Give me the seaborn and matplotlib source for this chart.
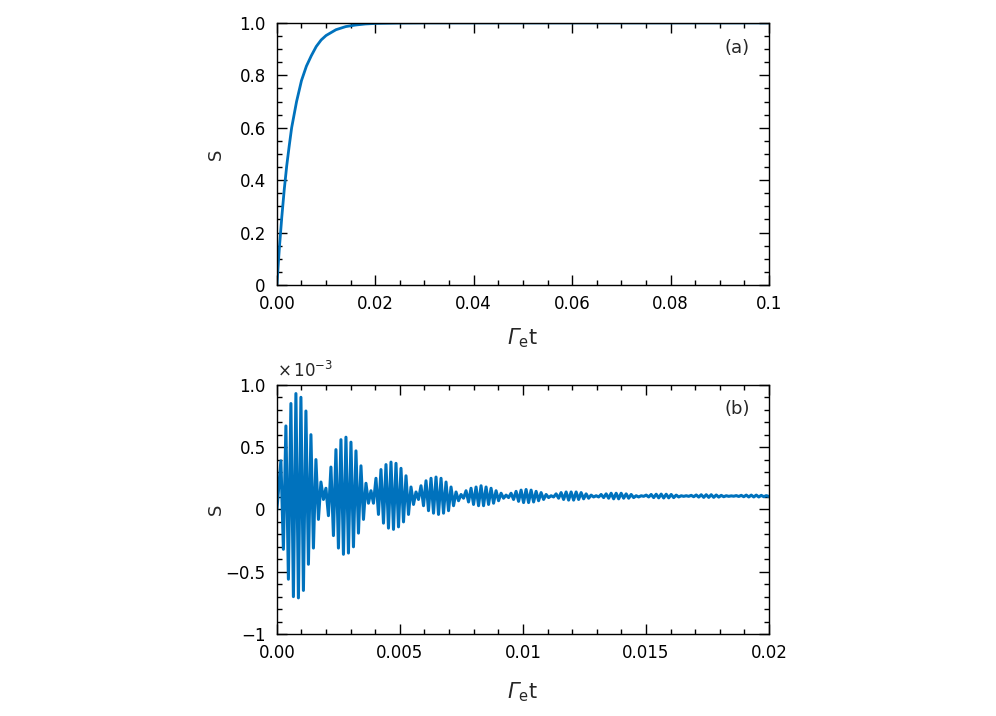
import numpy as np
import pandas as pd
import matplotlib
matplotlib.use("Agg")
import matplotlib.pyplot as plt
import seaborn as sns
from matplotlib.ticker import MultipleLocator

# ---------------- data ----------------
# panel (a): S vs Gamma_e t
t_a = [0, 0.0005, 0.001, 0.0015, 0.002, 0.0025, 0.003, 0.004, 0.005, 0.006,
       0.007, 0.008, 0.009, 0.010, 0.012, 0.014, 0.016, 0.018, 0.020, 0.025,
       0.030, 0.040, 0.050, 0.060, 0.070, 0.080, 0.090, 0.100]
S_a = [0, 0.14, 0.26, 0.365, 0.455, 0.53, 0.60, 0.70, 0.78, 0.835,
       0.875, 0.91, 0.935, 0.952, 0.974, 0.986, 0.992, 0.996, 0.998, 0.9995,
       1.0, 1.0, 1.0, 1.0, 1.0, 1.0, 1.0, 1.0]

# panel (b): S (x 1e-3), extrema of each carrier cycle
b_start = 0.0                 # value at t = 0
b_first_peak = 0.000163       # time of first maximum
b_period = 0.0002034          # carrier period
b_upper = [
    0.39, 0.67, 0.85, 0.93, 0.90, 0.79, 0.60, 0.40, 0.22,
    0.17, 0.34, 0.48, 0.56, 0.58, 0.54, 0.47, 0.35, 0.21,
    0.15, 0.25, 0.32, 0.36, 0.38, 0.37, 0.33, 0.27, 0.18,
    0.14, 0.19, 0.23, 0.25, 0.26, 0.25, 0.22, 0.18, 0.14,
    0.12, 0.15, 0.17, 0.18, 0.19, 0.18, 0.17, 0.15, 0.13,
    0.115, 0.13, 0.145, 0.155, 0.16, 0.155, 0.145, 0.135, 0.12,
    0.11, 0.125, 0.135, 0.14, 0.14, 0.14, 0.135, 0.125, 0.115,
    0.11, 0.12, 0.125, 0.13, 0.13, 0.13, 0.125, 0.12, 0.11,
    0.11, 0.115, 0.12, 0.122, 0.123, 0.122, 0.12, 0.115, 0.11,
    0.11, 0.113, 0.116, 0.118, 0.118, 0.118, 0.116, 0.113, 0.11,
    0.109, 0.111, 0.113, 0.115, 0.115, 0.115, 0.113, 0.111,
]
b_lower = [
    -0.32, -0.56, -0.70, -0.71, -0.65, -0.44, -0.31, -0.08, 0.08,
    -0.05, -0.21, -0.31, -0.36, -0.35, -0.30, -0.19, -0.08, 0.05,
    0.05, -0.04, -0.11, -0.15, -0.16, -0.14, -0.10, -0.04, 0.04,
    0.08, 0.03, -0.01, -0.03, -0.04, -0.03, -0.01, 0.03, 0.07,
    0.09, 0.06, 0.04, 0.03, 0.03, 0.04, 0.05, 0.07, 0.09,
    0.095, 0.08, 0.065, 0.055, 0.055, 0.06, 0.07, 0.08, 0.095,
    0.10, 0.09, 0.08, 0.075, 0.075, 0.08, 0.085, 0.09, 0.10,
    0.10, 0.095, 0.09, 0.085, 0.085, 0.09, 0.09, 0.095, 0.10,
    0.105, 0.10, 0.095, 0.093, 0.092, 0.093, 0.095, 0.10, 0.105,
    0.105, 0.102, 0.099, 0.097, 0.097, 0.097, 0.099, 0.102, 0.105,
    0.106, 0.104, 0.102, 0.100, 0.100, 0.100, 0.102, 0.104,
]

xt_a = [0, 0.02, 0.04, 0.06, 0.08, 0.1]
xl_a = ["0.00", "0.02", "0.04", "0.06", "0.08", "0.1"]
yt_a = [0, 0.2, 0.4, 0.6, 0.8, 1.0]
yl_a = ["0", "0.2", "0.4", "0.6", "0.8", "1.0"]
xt_b = [0, 0.005, 0.01, 0.015, 0.02]
xl_b = ["0.00", "0.005", "0.01", "0.015", "0.02"]
yt_b = [-1, -0.5, 0, 0.5, 1.0]
yl_b = ["\u22121", "\u22120.5", "0", "0.5", "1.0"]

# ---------------- build tables ----------------
df_a = pd.DataFrame({"t": t_a, "S": S_a})
n = len(b_upper)
t_up = b_first_peak + b_period * np.arange(n)
t_lo = t_up + b_period / 2
tb = np.empty(2 * n + 1)
sb = np.empty(2 * n + 1)
tb[0], sb[0] = 0.0, b_start
tb[1::2], tb[2::2] = t_up, t_lo
sb[1::2], sb[2::2] = b_upper, b_lower
df_b = pd.DataFrame({"t": tb, "S": sb})

# ---------------- style ----------------
sns.set_theme(style="ticks")
plt.rcParams.update({
    "font.family": ["DejaVu Sans"],
    "mathtext.fontset": "custom",
    "mathtext.rm": "DejaVu Sans",
    "mathtext.it": "DejaVu Sans:italic",
    "mathtext.sf": "DejaVu Sans:italic",
    "mathtext.bf": "DejaVu Sans:bold",
    "axes.linewidth": 1.0,
    "axes.edgecolor": "black",
    "xtick.direction": "in", "ytick.direction": "in",
    "xtick.top": True, "ytick.right": True,
    "xtick.major.size": 7, "ytick.major.size": 7,
    "xtick.minor.size": 3.5, "ytick.minor.size": 3.5,
    "xtick.major.width": 1.0, "ytick.major.width": 1.0,
    "xtick.minor.width": 1.0, "ytick.minor.width": 1.0,
    "xtick.color": "black", "ytick.color": "black",
    "xtick.labelsize": 12, "ytick.labelsize": 12,
    "xtick.major.pad": 7.5, "ytick.major.pad": 8,
})

color = "#0072BD"
fig = plt.figure(figsize=(9.96, 7.16), dpi=100)
ax1 = fig.add_axes([0.278, 0.602, 0.494, 0.366])
ax2 = fig.add_axes([0.278, 0.1145, 0.494, 0.348])

sns.lineplot(data=df_a, x="t", y="S", ax=ax1, color=color, lw=2.0,
             estimator=None, sort=False)
sns.lineplot(data=df_b, x="t", y="S", ax=ax2, color=color, lw=2.2,
             estimator=None, sort=False)

xlabel = r"$\mathsf{\Gamma}_{\mathrm{e}}\mathrm{t}$"
for ax, xt, xl, yt, yl, xmax, ylim, xmin_loc, ymin_loc, tag in [
    (ax1, xt_a, xl_a, yt_a, yl_a, 0.1, (0, 1), 0.005, 0.05, "(a)"),
    (ax2, xt_b, xl_b, yt_b, yl_b, 0.02, (-1, 1), 0.001, 0.1, "(b)"),
]:
    ax.set_xlim(0, xmax)
    ax.set_ylim(*ylim)
    ax.set_xticks(xt, xl)
    ax.set_yticks(yt, yl)
    ax.xaxis.set_minor_locator(MultipleLocator(xmin_loc))
    ax.yaxis.set_minor_locator(MultipleLocator(ymin_loc))
    ax.tick_params(which="both", top=True, right=True, direction="in")
    ax.set_xlabel(xlabel, fontsize=15)
    ax.set_ylabel("S", fontsize=13)
    ax.yaxis.set_label_coords(-0.105, 0.5)
    ax.text(0.935, 0.905, tag, transform=ax.transAxes, fontsize=13,
            ha="center", va="center")
    for s in ax.spines.values():
        s.set_visible(True)
        s.set_color("black")

ax1.xaxis.set_label_coords(0.5, -0.16)
ax2.xaxis.set_label_coords(0.5, -0.185)
ax2.text(0.0, 1.015, r"$\times\,10^{-3}$", transform=ax2.transAxes,
         fontsize=12, ha="left", va="bottom")

fig.savefig("out.png", dpi=100)
